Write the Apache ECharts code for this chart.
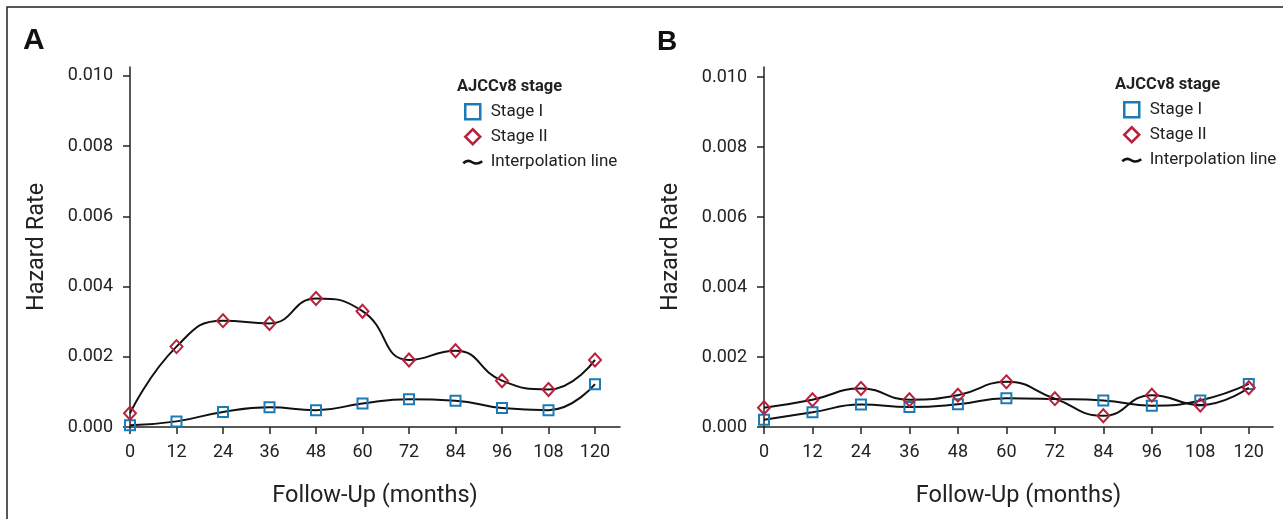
<!DOCTYPE html>
<html><head><meta charset="utf-8">
<script src="https://cdn.jsdelivr.net/npm/echarts@6/dist/echarts.min.js"></script>
<style>html,body{margin:0;padding:0;background:#fff}#c{width:1283px;height:519px}</style>
</head><body><div id="c"></div>
<script>
// ---- data ----
const months = [0, 12, 24, 36, 48, 60, 72, 84, 96, 108, 120];
const xTicks = [0, 12, 24, 36, 48, 60, 72, 84, 96, 108, 120];
const yTicks = [0, 0.002, 0.004, 0.006, 0.008, 0.010];
const panelLabels = ['A', 'B'];
const legendNames = ['Stage I', 'Stage II', 'Interpolation line'];
const legendTitle = 'AJCCv8 stage';
// Panel A
const stageI_A  = [0.00005, 0.00016, 0.00043, 0.00056, 0.00048, 0.00067, 0.00079, 0.00075, 0.00054, 0.00048, 0.00122];
const stageII_A = [0.00039, 0.00229, 0.00303, 0.00295, 0.00366, 0.00330, 0.00191, 0.00217, 0.00132, 0.00107, 0.00191];
// Panel B
const stageI_B  = [0.00021, 0.00042, 0.00064, 0.00057, 0.00065, 0.00082, 0.00080, 0.00076, 0.00061, 0.00076, 0.00123];
const stageII_B = [0.00055, 0.00078, 0.00110, 0.00078, 0.00091, 0.00129, 0.00081, 0.00032, 0.00091, 0.00063, 0.00112];

// ---- styles ----
const BLUE = '#1b7bb6', RED = '#b8213b', INK = '#222', FONT = 'Roboto';
const CLEAR = 'rgba(0,0,0,0)';
const ICON_SQ = 'path://M0,0L14,0L14,14L0,14Z';
const ICON_DI = 'path://M8,0L16,8L8,16L0,8Z';
const ICON_LN = 'path://M0,0M0,9C3,6 6,6 9,8C12,10 15,10 19,7M19,15';

const grids = [
  {left: 130, top: 67, width: 490, height: 360},
  {left: 764, top: 67, width: 509, height: 360}
];
const xMax = [126.45, 126.0];
const yMax = [0.010256, 0.010286];

function pairs(vals, hideAt) {
  return months.map((m, i) => {
    const d = {value: [m, vals[i]]};
    if (hideAt && hideAt.indexOf(m) >= 0) d.symbol = 'none';
    return d;
  });
}

const xAxes = grids.map((g, i) => ({
  gridIndex: i, type: 'value', min: 0, max: xMax[i],
  axisLine: {lineStyle: {color: INK, width: 1.5}},
  axisTick: {length: 7, customValues: xTicks, lineStyle: {color: INK, width: 1.5}},
  axisLabel: {customValues: xTicks, margin: 16, fontSize: 18, color: INK, fontFamily: FONT},
  splitLine: {show: false},
  name: 'Follow-Up (months)', nameLocation: 'middle', nameGap: 57,
  nameTextStyle: {fontSize: 23.5, color: INK, fontFamily: FONT}
}));
const yAxes = grids.map((g, i) => ({
  gridIndex: i, type: 'value', min: 0, max: yMax[i],
  axisLine: {show: true, lineStyle: {color: INK, width: 1.5}},
  axisTick: {show: true, length: 7, customValues: yTicks, lineStyle: {color: INK, width: 1.5}},
  axisLabel: {customValues: yTicks, margin: 17, fontSize: 18, color: INK, fontFamily: FONT,
              formatter: v => v.toFixed(3)},
  splitLine: {show: false},
  name: 'Hazard Rate', nameLocation: 'middle', nameGap: 81,
  nameTextStyle: {fontSize: 23.5, color: INK, fontFamily: FONT}
}));

function stageSeries(name, vals, idx, isII, hideAt) {
  return {
    name: name, type: 'line', xAxisIndex: idx, yAxisIndex: idx,
    data: pairs(vals, hideAt), smooth: 0.5,
    symbol: isII ? 'diamond' : 'rect', symbolSize: isII ? [12, 13] : 10,
    showAllSymbol: true,
    lineStyle: {color: '#111', width: 2},
    itemStyle: {color: CLEAR, borderColor: isII ? RED : BLUE, borderWidth: 2},
    emphasis: {disabled: true},
    z: isII ? 3 : 2
  };
}

const series = [
  stageSeries('Stage I', stageI_A, 0, false),
  stageSeries('Stage II', stageII_A, 0, true),
  stageSeries('Stage I', stageI_B, 1, false, [72]),
  stageSeries('Stage II', stageII_B, 1, true),
  {name: 'Interpolation line', type: 'line', xAxisIndex: 0, yAxisIndex: 0, data: [],
   lineStyle: {color: '#111', width: 2}, itemStyle: {color: '#111'}}
];

function legendAt(left, top) {
  return {
    left: left, top: top, orient: 'vertical', padding: 0,
    itemWidth: 26, itemHeight: 15, itemGap: 7.5, selectedMode: false,
    textStyle: {fontSize: 17, color: INK, fontFamily: FONT, lineHeight: 15},
    data: [
      {name: legendNames[0], icon: ICON_SQ, itemStyle: {color: CLEAR, borderColor: BLUE, borderWidth: 2.5}},
      {name: legendNames[1], icon: ICON_DI, itemStyle: {color: CLEAR, borderColor: RED, borderWidth: 2.5}},
      {name: legendNames[2], icon: ICON_LN, itemStyle: {color: CLEAR, borderColor: '#111', borderWidth: 2.5}}
    ]
  };
}

const titles = [
  {text: panelLabels[0], left: 23, top: 26, padding: 0,
   textStyle: {fontSize: 30, fontWeight: 'bold', fontFamily: 'Liberation Sans', color: '#111'}},
  {text: panelLabels[1], left: 657, top: 28, padding: 0,
   textStyle: {fontSize: 28, fontWeight: 'bold', fontFamily: 'Liberation Sans', color: '#111'}},
  {text: legendTitle, left: 457, top: 78, padding: 0,
   textStyle: {fontSize: 16.5, fontWeight: 'bold', fontFamily: FONT, color: INK}},
  {text: legendTitle, left: 1115, top: 76, padding: 0,
   textStyle: {fontSize: 16.5, fontWeight: 'bold', fontFamily: FONT, color: INK}}
];

const chart = echarts.init(document.getElementById('c'), null, {renderer: 'canvas'});
chart.setOption({
  animation: false,
  backgroundColor: '#fff',
  title: titles,
  grid: grids,
  xAxis: xAxes,
  yAxis: yAxes,
  legend: [legendAt(462, 103), legendAt(1121, 101)],
  series: series,
  graphic: [{
    type: 'polyline', silent: true,
    shape: {points: [[7, 519], [7, 7], [1283, 7]]},
    style: {stroke: INK, lineWidth: 1.5, fill: null}
  }]
});
</script>
</body></html>
